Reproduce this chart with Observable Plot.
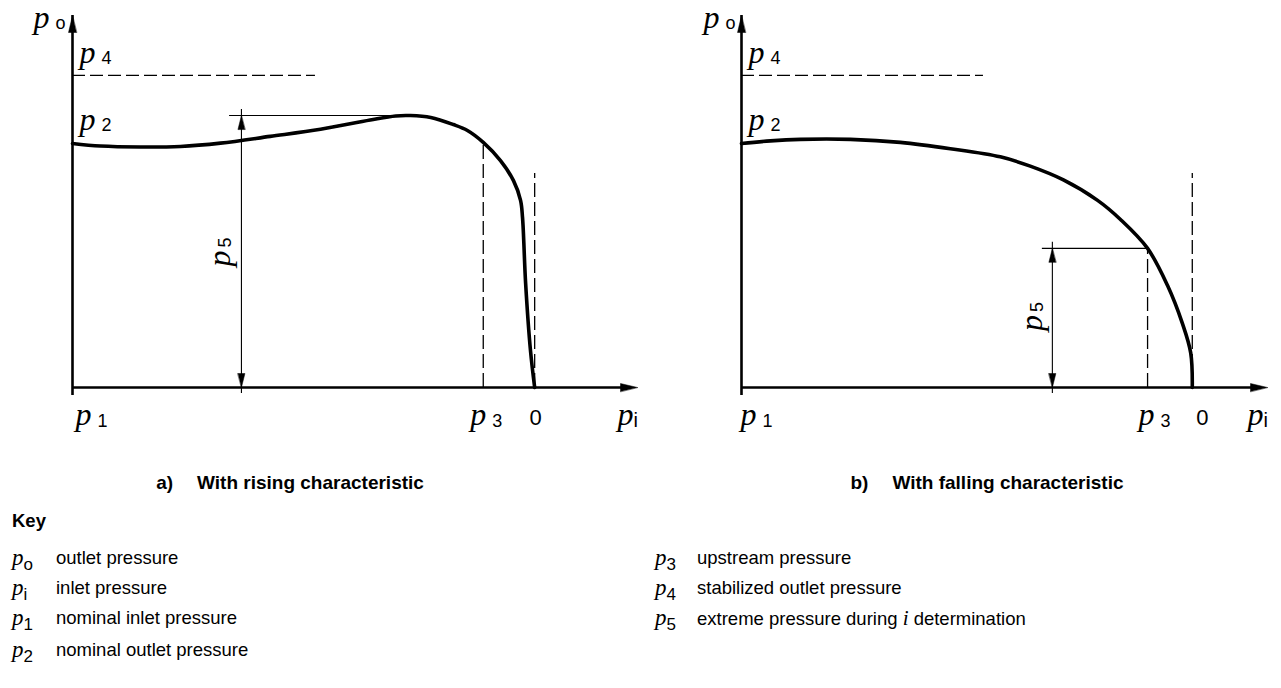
<!DOCTYPE html>
<html><head><meta charset="utf-8">
<script src="https://cdn.jsdelivr.net/npm/d3@7"></script>
<script src="https://cdn.jsdelivr.net/npm/@observablehq/plot@0.6"></script>
<style>
body{margin:0;background:#fff;}
#wrap{position:relative;width:1281px;height:688px;overflow:hidden;font-family:"Liberation Sans",Arial,sans-serif;color:#000;background:#fff;}
#panels{position:absolute;left:0;top:0;display:flex;}
#panels svg{max-width:none !important;}
.cap{position:absolute;top:472px;font-weight:bold;font-size:19px;line-height:22px;white-space:nowrap;transform:translateX(-50%);}
.cap .lbl{margin-right:24px;}
.keyhead{position:absolute;left:12px;top:510px;font-weight:bold;font-size:18.5px;line-height:22px;}
.sym{position:absolute;font-family:"Liberation Serif","Times New Roman",serif;font-style:italic;font-size:23px;line-height:24px;white-space:nowrap;}
.sym span{font-family:"Liberation Sans",Arial,sans-serif;font-style:normal;font-size:17px;position:relative;top:5px;}
.ktext{position:absolute;font-size:18.5px;line-height:20px;white-space:nowrap;}
.ktext i{font-family:"Liberation Serif","Times New Roman",serif;font-size:21px;}
</style></head><body>
<div id="wrap"><div id="panels"></div></div>
<script>
// ---------- data (arbitrary units: x = inlet pressure 0..100, y = outlet pressure 0..100) ----------
// a) rising characteristic
const curveAx = [0, 4.96, 12.0, 19.1, 26.2, 35.0, 43.9, 52.7, 57.2, 59.8, 63.4, 67.4, 69.9, 72.7, 75.75, 78.05, 79.3, 79.65, 80.2, 81.06, 81.8];
const curveAy = [65.6, 64.9, 64.65, 64.8, 65.7, 67.5, 69.4, 71.9, 73.0, 73.1, 72.6, 70.7, 69.1, 65.9, 61.0, 55.6, 50.3, 45.7, 28.0, 9.9, 0];
// reference levels a): [p4 level, p4 line end, p5 level, p5 arrow x, p5 line start, p5 line end, p3, p3 top, zero, zero top]
const refA = [83.9, 43.0, 73.1, 29.9, 27.8, 59.8, 72.7, 65.9, 81.8, 57.5];
// b) falling characteristic
const curveBx = [0, 5.5, 11.2, 20.7, 30.2, 39.7, 49.2, 54.9, 61.2, 67.7, 72.1, 77.2, 81.0, 83.8, 85.4, 85.7];
const curveBy = [65.6, 66.3, 66.7, 66.7, 65.9, 64.2, 62.0, 59.5, 55.8, 50.3, 45.1, 37.4, 27.4, 17.3, 9.3, 0];
const refB = [83.9, 46.0, 37.4, 59.1, 57.2, 77.2, 77.2, 37.4, 85.7, 57.5];

const captions = ["a)", "With rising characteristic", "b)", "With falling characteristic"];
const keySubs = ["o", "i", "1", "2", "3", "4", "5"];
const keyTexts = ["outlet pressure", "inlet pressure", "nominal inlet pressure", "nominal outlet pressure",
  "upstream pressure", "stabilized outlet pressure", "extreme pressure during <i>i</i> determination"];

// ---------- drawing ----------
const serif = "Liberation Serif, Times New Roman, serif";
const sans = "Liberation Sans, Arial, sans-serif";
const tri = (w) => ({draw(ctx, l) { ctx.moveTo(0, -l); ctx.lineTo(-w / 2, 0); ctx.lineTo(w / 2, 0); ctx.closePath(); }});
function head(x, y, rot, len, w) {
  return Plot.vector([{x, y}], {x: "x", y: "y", rotate: rot, length: len, anchor: "end", shape: tri(w), fill: "black", stroke: "black", strokeWidth: 0.5});
}
function plabel(x, y, sub, dx, dy, o = {}) {
  const rot = o.rotate || 0;
  const sdx = o.sdx ?? 22, sdy = o.sdy ?? 1;
  return [
    Plot.text([{x, y}], {x: "x", y: "y", text: () => "p", dx, dy, rotate: rot, fontFamily: serif, fontStyle: "italic", fontSize: 32, textAnchor: "start", lineAnchor: "bottom"}),
    Plot.text([{x, y}], {x: "x", y: "y", text: () => sub, dx: dx + sdx, dy: dy + sdy, rotate: rot, fontFamily: sans, fontSize: o.subSize || 18, textAnchor: "start", lineAnchor: "bottom"})
  ];
}
function panel(cx, cy, ref, lay) {
  const [p4, p4End, p5, p5x, p5L0, p5L1, p3, p3Top, zero, zeroTop] = ref;
  const pts = cx.map((x, i) => ({x, y: cy[i]}));
  const L = lay.lab;
  return Plot.plot({
    width: lay.width, height: 450,
    marginLeft: lay.ml, marginRight: lay.mr, marginTop: 15, marginBottom: 63,
    x: {domain: [0, 100], axis: null}, y: {domain: [0, 100], axis: null},
    style: {background: "white", overflow: "visible"},
    marks: [
      Plot.ruleY([p4], {x1: 0, x2: p4End, strokeWidth: 1.3, strokeDasharray: "13,5"}),
      Plot.ruleX([p3], {y1: 0, y2: p3Top, strokeWidth: 1.3, strokeDasharray: "14,5"}),
      Plot.ruleX([zero], {y1: 0, y2: zeroTop, strokeWidth: 1.3, strokeDasharray: "14,5"}),
      Plot.ruleY([p5], {x1: p5L0, x2: p5L1, strokeWidth: 1.1}),
      Plot.ruleX([p5x], {y1: 0, y2: p5, strokeWidth: 1.1, insetTop: 6, insetBottom: 6}),
      head(p5x, p5, 0, 14, 7),
      head(p5x, 0, 180, 14, 7),
      Plot.line(pts, {x: "x", y: "y", curve: "catmull-rom", strokeWidth: 3.6}),
      Plot.ruleY([0], {x1: 0, x2: 100, strokeWidth: 2.6, insetRight: 8}),
      Plot.ruleX([0], {y1: 0, y2: 100, strokeWidth: 2.6, insetTop: 8}),
      head(100, 0, 90, 17, 8),
      head(0, 100, 0, 17, 8),
      ...plabel(0, 100, "o", L.po, 12),
      ...plabel(0, p4, "4", 7, -12),
      ...plabel(0, cy[0], "2", 7, -13),
      ...plabel(0, 0, "1", L.p1, 37, {sdy: 2}),
      ...plabel(p3, 0, "3", L.p3, 37, {sdy: 2}),
      Plot.text([{x: zero, y: 0}], {x: "x", y: "y", text: () => "0", dx: L.zero, dy: 37, fontFamily: sans, fontSize: 22, textAnchor: "middle", lineAnchor: "bottom"}),
      ...plabel(100, 0, "i", -20, 37, {sdx: 16, sdy: 2, subSize: 20}),
      ...plabel(p5x, p5 / 2, "5", L.p5dx, L.p5dy, {rotate: -90, sdx: 1, sdy: -19})
    ]
  });
}
const panels = document.getElementById("panels");
panels.append(panel(curveAx, curveAy, refA, {width: 640, ml: 72, mr: 3, lab: {po: -39, p1: 3, p3: -13, zero: 1, p5dx: -11, p5dy: 15}}));
panels.append(panel(curveBx, curveBy, refB, {width: 641, ml: 101, mr: 14, lab: {po: -38, p1: -1, p3: -9, zero: 10, p5dx: -10, p5dy: 13}}));

// captions
const wrap = document.getElementById("wrap");
[[captions[0], captions[1], 290], [captions[2], captions[3], 987]].forEach(([a, b, cx]) => {
  const d = document.createElement("div");
  d.className = "cap"; d.style.left = cx + "px";
  d.innerHTML = `<span class="lbl">${a}</span>${b}`;
  wrap.append(d);
});
const kh = document.createElement("div");
kh.className = "keyhead"; kh.textContent = "Key"; wrap.append(kh);
const rowsY = [560, 590, 620, 652];
keySubs.forEach((s, i) => {
  const col = i < 4 ? 0 : 1;
  const r = i < 4 ? i : i - 4;
  const sx = col ? 655 : 12, tx = col ? 697 : 56;
  const cy = rowsY[r];
  const sy = document.createElement("div");
  sy.className = "sym"; sy.style.left = sx + "px"; sy.style.top = (cy - 14) + "px";
  sy.innerHTML = `p<span>${s}</span>`;
  wrap.append(sy);
  const t = document.createElement("div");
  t.className = "ktext"; t.style.left = tx + "px"; t.style.top = (cy - 12) + "px";
  t.innerHTML = keyTexts[i];
  wrap.append(t);
});
</script>
</body></html>
